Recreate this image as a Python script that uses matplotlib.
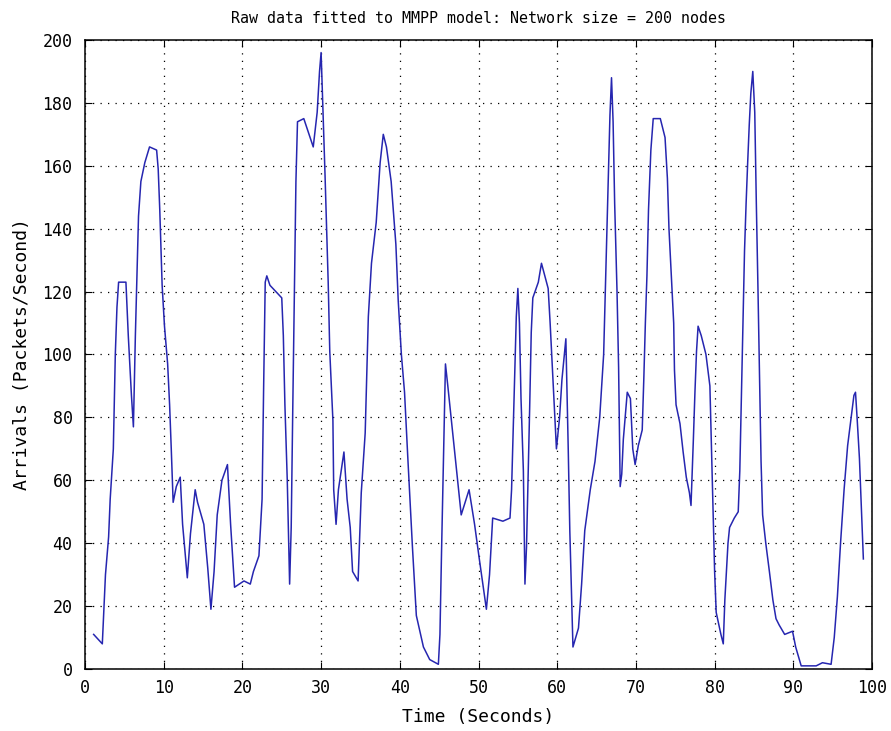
import matplotlib
matplotlib.use("Agg")
import matplotlib.pyplot as plt

title = "Raw data fitted to MMPP model: Network size = 200 nodes"
xlabel = "Time (Seconds)"
ylabel = "Arrivals (Packets/Second)"

time_s = [1.1, 2.2, 2.6, 3.0, 3.2, 3.6, 3.85, 4.06, 4.27, 5.2, 5.5, 5.9, 6.15,
          6.4, 6.6, 6.8, 7.1, 7.6, 8.2, 9.1, 9.3, 9.5, 9.8, 10.1, 10.5, 10.75,
          10.96, 11.2, 11.6, 12.1, 12.4, 13.0, 13.4, 14.0, 14.3, 15.1, 15.6, 16.0,
          16.4, 16.8, 17.4, 18.1, 18.5, 19.0, 20.2, 21.0, 21.4, 22.1, 22.5, 22.7,
          22.9, 23.1, 23.5, 25.0, 25.2, 25.4, 25.7, 26.0, 26.2, 26.4, 26.6, 26.8,
          27.0, 27.8, 29.0, 29.5, 29.8, 30.0, 30.3, 30.5, 30.9, 31.1, 31.5, 31.6,
          31.9, 32.2, 32.9, 33.3, 33.7, 34.0, 34.7, 35.1, 35.6, 36.0, 36.4, 37.0,
          37.5, 37.9, 38.3, 38.9, 39.5, 39.8, 40.2, 40.6, 41.0, 41.6, 42.1, 43.0,
          43.8, 44.9, 45.1, 45.3, 45.5, 45.8, 46.1, 46.8, 47.8, 48.8, 49.5, 50.1,
          51.0, 51.4, 51.8, 53.1, 54.0, 54.2, 54.4, 54.6, 54.8, 55.0, 55.2, 55.4,
          55.7, 55.9, 56.1, 56.3, 56.5, 56.7, 56.9, 57.6, 58.0, 58.85, 59.1, 59.5,
          59.9, 60.3, 60.6, 61.1, 61.4, 61.6, 62.0, 62.7, 63.1, 63.5, 64.2, 64.8,
          65.4, 65.9, 66.3, 66.5, 66.7, 66.9, 67.1, 67.3, 67.6, 67.8, 68.0, 68.2,
          68.4, 68.9, 69.3, 69.6, 69.9, 70.3, 70.8, 71.0, 71.2, 71.4, 71.6, 71.9,
          72.2, 73.1, 73.7, 74.0, 74.2, 74.5, 74.8, 74.9, 75.1, 75.6, 76.0, 76.4,
          76.8, 77.0, 77.3, 77.5, 77.7, 77.9, 78.3, 78.9, 79.4, 79.6, 79.8, 80.0,
          80.2, 80.8, 81.1, 81.3, 81.7, 81.9, 82.5, 83.0, 83.2, 83.4, 83.6, 83.8,
          84.0, 84.2, 84.4, 84.6, 84.85, 85.1, 85.3, 85.5, 85.7, 85.9, 86.1, 86.5,
          86.96, 87.4, 87.8, 88.2, 88.9, 89.9, 90.3, 91.0, 92.9, 93.7, 94.8, 95.2,
          95.6, 96.0, 96.45, 96.9, 97.3, 97.7, 97.9, 98.1, 98.4, 98.6, 98.9]

arrivals = [11, 8, 30, 42, 54, 70, 100, 115, 123, 123, 106, 87, 77,
            106, 125, 144, 155, 161, 166, 165, 159, 146, 122, 109, 97, 84,
            70, 53, 58, 61, 46, 29, 43, 57, 53, 46, 32, 19,
            31, 49, 60, 65, 46, 26, 28, 27, 31, 36, 54, 90,
            123, 125, 122, 118, 106, 84, 60, 27, 45, 83, 118, 155,
            174, 175, 166, 177, 190, 196, 173, 157, 123, 101, 79, 57,
            46, 57, 69, 54, 45, 31, 28, 56, 75, 112, 129, 142,
            161, 170, 166, 155, 135, 117, 100, 88, 68, 39, 17, 7,
            3, 1.5, 11, 37, 61, 97, 90, 73, 49, 57, 46, 35,
            19, 30, 48, 47, 48, 57, 75, 93, 112, 121, 110, 86,
            63, 27, 39, 61, 83, 107, 118, 123, 129, 121, 110, 90,
            70, 80, 92, 105, 70, 44, 7, 13, 27, 44, 57, 66,
            80, 100, 138, 157, 176, 188, 174, 148, 120, 96, 58, 62,
            73, 88, 86, 70, 65, 71, 76, 92, 110, 125, 146, 165,
            175, 175, 169, 156, 140, 125, 110, 95, 84, 78, 69, 61,
            56, 52, 73, 88, 101, 109, 106, 100, 90, 70, 50, 31,
            18, 11, 8, 22, 40, 45, 48, 50, 63, 86, 109, 133,
            148, 161, 173, 183, 190, 177, 148, 122, 93, 66, 49, 40,
            31, 22, 16, 14, 11, 12, 7, 1, 1, 2, 1.5, 10,
            23, 40, 57, 71, 79, 87, 88, 80, 67, 54, 35]

xticks = list(range(0, 101, 10))
yticks = list(range(0, 201, 20))

plt.rcParams['font.family'] = ['DejaVu Sans Mono']
fig = plt.figure(figsize=(8.91, 7.31), dpi=100)
ax = fig.add_axes([0.0954, 0.0848, 0.8833, 0.8605])
ax.plot(time_s, arrivals, color='#2626b0', linewidth=1.1)
ax.set_xlim(0, 100)
ax.set_ylim(0, 200)
ax.set_xticks(xticks)
ax.set_yticks(yticks)
ax.grid(True, color='black', linestyle=(0, (1, 5)), linewidth=0.9)
ax.tick_params(direction='in', top=True, right=True, length=5, labelsize=12, pad=7)
ax.tick_params(axis='y', pad=9)
for s in ax.spines.values():
    s.set_linewidth(1.1)
ax.set_title(title, fontsize=10.8, pad=12)
ax.set_xlabel(xlabel, fontsize=13, labelpad=8)
ax.set_ylabel(ylabel, fontsize=13, labelpad=8)
fig.savefig("out.png", dpi=100)
